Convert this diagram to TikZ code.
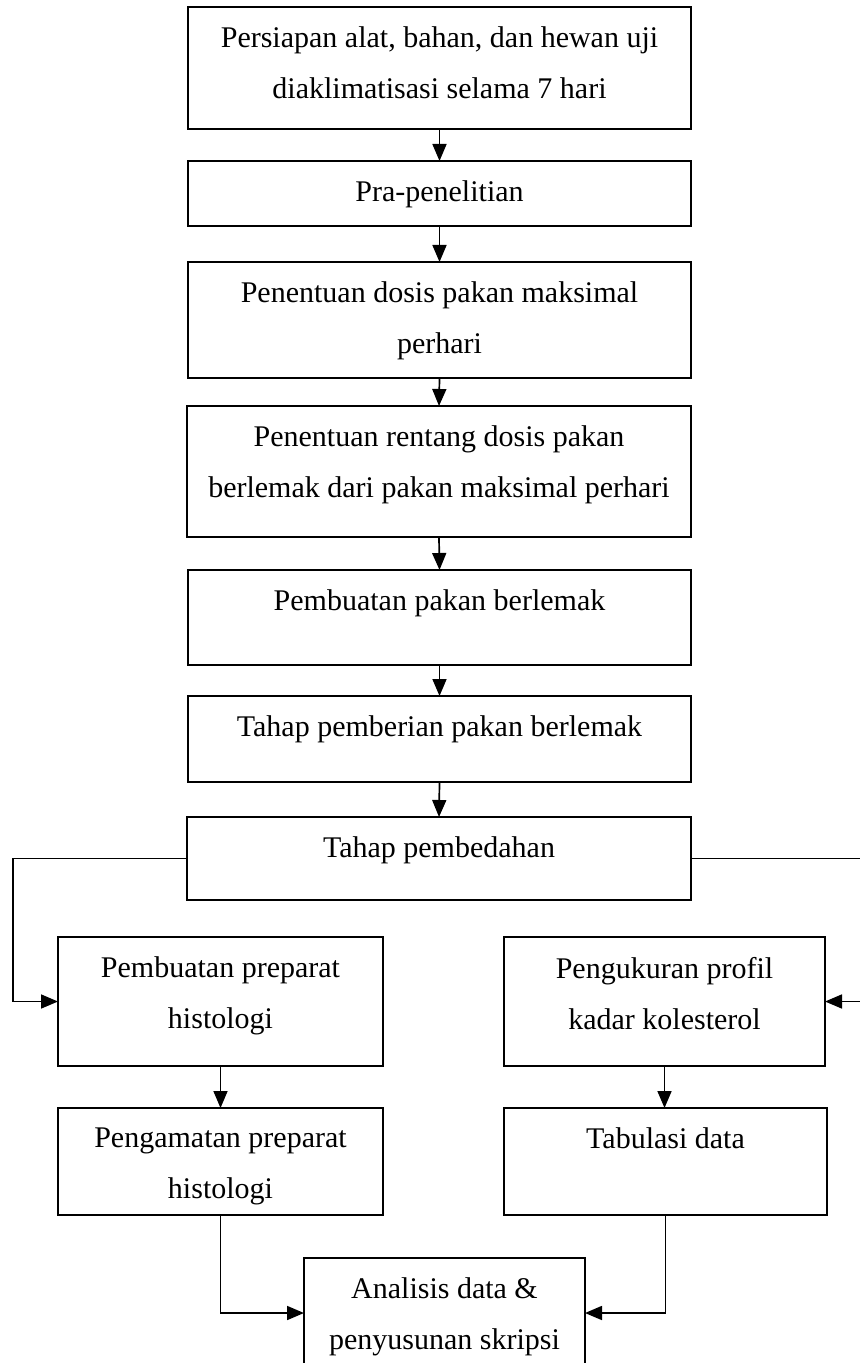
\documentclass[tikz,border=0pt]{standalone}
\usepackage{fontspec}
\setmainfont{Liberation Serif}
\usetikzlibrary{arrows.meta}
\begin{document}
\begin{tikzpicture}[x=0.5pt,y=-0.5pt,
  box/.style={draw, line width=0.85pt, rectangle, inner sep=0pt, outer sep=0pt, anchor=north west},
  lbl/.style={font=\fontsize{15pt}{25.5pt}\selectfont, align=center, inner sep=0pt, anchor=north},
  arr/.style={line width=0.85pt, -{Triangle[length=8.5pt,width=7pt]}}]
\useasboundingbox (0,0) rectangle (859,1363);

% boxes
\node[box, minimum width=503*0.5pt, minimum height=122*0.5pt] (b1) at (188,7) {};
\node[box, minimum width=503*0.5pt, minimum height=65*0.5pt]  (b2) at (188,161) {};
\node[box, minimum width=503*0.5pt, minimum height=116*0.5pt] (b3) at (188,262) {};
\node[box, minimum width=504*0.5pt, minimum height=131*0.5pt] (b4) at (187,406) {};
\node[box, minimum width=503*0.5pt, minimum height=95*0.5pt]  (b5) at (188,570) {};
\node[box, minimum width=503*0.5pt, minimum height=86*0.5pt]  (b6) at (188,696) {};
\node[box, minimum width=504*0.5pt, minimum height=83*0.5pt]  (b7) at (187,817) {};
\node[box, minimum width=325*0.5pt, minimum height=129*0.5pt] (b8) at (58,937) {};
\node[box, minimum width=321*0.5pt, minimum height=129*0.5pt] (b9) at (504,937) {};
\node[box, minimum width=325*0.5pt, minimum height=107*0.5pt] (b10) at (58,1108) {};
\node[box, minimum width=323*0.5pt, minimum height=107*0.5pt] (b11) at (504,1108) {};
\node[box, minimum width=281*0.5pt, minimum height=150*0.5pt] (b12) at (304,1258) {};

% labels
\node[lbl] (t1) at ([yshift=-9.75pt]b1.north) {Persiapan alat, bahan, dan hewan uji\\diaklimatisasi selama 7 hari};
\node[lbl] (t2) at ([yshift=-9.75pt]b2.north) {Pra-penelitian};
\node[lbl] (t3) at ([yshift=-9.75pt]b3.north) {Penentuan dosis pakan maksimal\\perhari};
\node[lbl] (t4) at ([yshift=-9.75pt]b4.north) {Penentuan rentang dosis pakan\\berlemak dari pakan maksimal perhari};
\node[lbl] (t5) at ([yshift=-9.75pt]b5.north) {Pembuatan pakan berlemak};
\node[lbl] (t6) at ([yshift=-9.75pt]b6.north) {Tahap pemberian pakan berlemak};
\node[lbl] (t7) at ([yshift=-9.75pt]b7.north) {Tahap pembedahan};
\node[lbl] (t8) at ([yshift=-9.75pt]b8.north) {Pembuatan preparat\\histologi};
\node[lbl] (t9) at ([yshift=-9.75pt]b9.north) {Pengukuran profil\\kadar kolesterol};
\node[lbl] (t10) at ([yshift=-9.75pt]b10.north) {Pengamatan preparat\\histologi};
\node[lbl] (t11) at ([yshift=-9.75pt]b11.north) {Tabulasi data};
\node[lbl] (t12) at ([yshift=-9.75pt]b12.north) {Analisis data \&\\penyusunan skripsi};

% helper coordinates
\coordinate (cl) at (13,0);
\coordinate (cr) at (866,0);
\coordinate (j) at (0,1313);

% connectors
\draw[arr] (b1.south) -- (b2.north);
\draw[arr] (b2.south) -- (b3.north);
\draw[arr] (b3.south) -- (b4.north);
\draw[arr] (b4.south) -- (b5.north);
\draw[arr] (b5.south) -- (b6.north);
\draw[arr] (b6.south) -- (b7.north);
\draw[arr] (b7.west) -- (b7.west -| cl) |- (b8.west);
\draw[arr] (b7.east) -- (b7.east -| cr) |- (b9.east);
\draw[arr] (b8.south) -- (b10.north);
\draw[arr] (b9.south) -- (b9.south |- b11.north);
\draw[arr] (b10.south) |- (b12.west |- j);
\draw[arr] (b11.south) |- (b12.east |- j);
\end{tikzpicture}
\end{document}
